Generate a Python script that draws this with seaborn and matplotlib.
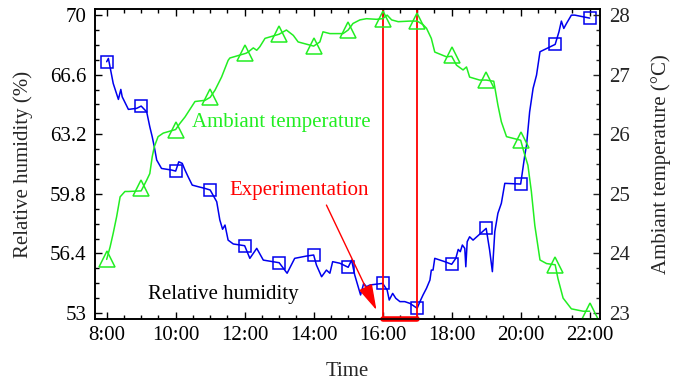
import numpy as np
import pandas as pd
import matplotlib
matplotlib.use("Agg")
import matplotlib.pyplot as plt
from matplotlib.ticker import AutoMinorLocator
import seaborn as sns

# ---- data ----
rh_time = [8.0, 8.05, 8.19, 8.34, 8.41, 8.45, 8.63, 8.87, 9.0, 9.16, 9.25, 9.32, 9.38, 9.45, 9.59,
           9.88, 10.0, 10.09, 10.19, 10.27, 10.36, 10.48, 10.65, 10.85, 11.0, 11.19, 11.28, 11.36,
           11.43, 11.52, 11.67, 12.0, 12.15, 12.35, 12.54, 13.0, 13.23, 13.45, 13.79, 14.0, 14.08,
           14.23, 14.37, 14.47, 14.55, 14.76, 15.0, 15.1, 15.19, 15.36, 15.45, 15.53, 15.63, 16.0,
           16.13, 16.19, 16.29, 16.38, 16.5, 16.64, 16.79, 17.0, 17.08, 17.17, 17.27, 17.37, 17.41,
           17.46, 17.51, 17.8, 18.0, 18.12, 18.19, 18.25, 18.31, 18.38, 18.41, 18.45, 18.52, 18.62,
           19.0, 19.1, 19.18, 19.25, 19.34, 19.44, 19.54, 20.0, 20.12, 20.17, 20.26, 20.36, 20.46,
           20.56, 21.0, 21.11, 21.18, 21.25, 21.33, 21.47, 21.57, 22.0]
rh_line = [67.34, 67.53, 66.10, 65.19, 65.76, 65.34, 64.62, 64.68, 64.81, 64.48, 63.63, 63.06,
           62.49, 61.73, 61.25, 61.16, 61.10, 61.63, 61.54, 61.16, 60.78, 60.30, 60.21, 60.11,
           60.02, 59.35, 58.31, 57.78, 58.02, 57.16, 56.94, 56.84, 56.12, 56.69, 56.02, 55.87,
           55.27, 56.12, 56.25, 56.31, 55.74, 55.07, 55.45, 55.27, 55.93, 55.84, 55.61, 56.02,
           55.17, 54.03, 54.69, 54.50, 54.60, 54.69, 54.31, 53.74, 54.12, 53.84, 53.65, 53.65,
           53.55, 53.27, 53.65, 54.03, 54.41, 54.88, 55.45, 55.45, 56.12, 55.93, 55.78, 56.12,
           56.63, 56.50, 56.88, 56.69, 55.64, 57.07, 57.35, 57.16, 57.83, 56.59, 55.36, 57.64,
           58.69, 59.26, 60.40, 60.36, 62.01, 62.58, 64.48, 65.82, 66.58, 67.91, 68.33, 69.05,
           69.66, 69.24, 69.53, 70.0, 70.0, 69.83]

temp_time = [8.0, 8.1, 8.19, 8.29, 8.39, 8.53, 8.63, 9.0, 9.16, 9.25, 9.32, 9.38, 9.49, 9.64, 10.0,
             10.12, 10.27, 10.56, 10.85, 11.0, 11.14, 11.33, 11.52, 11.57, 12.04, 12.1, 12.25,
             12.35, 12.44, 12.59, 13.0, 13.21, 13.41, 13.55, 14.0, 14.18, 14.27, 14.47, 14.85,
             15.0, 15.14, 15.34, 15.53, 15.82, 16.0, 16.13, 16.26, 16.45, 16.79, 17.0, 17.17,
             17.27, 17.41, 17.51, 17.85, 18.0, 18.14, 18.33, 18.43, 18.52, 18.81, 19.0, 19.22,
             19.34, 19.44, 19.59, 20.0, 20.09, 20.21, 20.31, 20.41, 20.56, 20.75, 21.0, 21.08,
             21.23, 21.47, 21.81, 22.0]
temp_line = [23.90, 24.11, 24.34, 24.62, 24.95, 25.04, 25.04, 25.05, 25.23, 25.34, 25.62, 25.79,
             25.96, 26.02, 26.08, 26.18, 26.29, 26.55, 26.57, 26.62, 26.74, 26.96, 27.24, 27.28,
             27.36, 27.38, 27.45, 27.41, 27.47, 27.61, 27.68, 27.75, 27.66, 27.55, 27.48, 27.55,
             27.72, 27.69, 27.69, 27.75, 27.86, 27.92, 27.94, 27.93, 27.94, 28.0, 27.92, 27.89,
             27.90, 27.90, 27.84, 27.78, 27.61, 27.38, 27.30, 27.31, 27.16, 27.08, 27.13, 26.96,
             26.91, 26.91, 26.89, 26.49, 26.21, 25.96, 25.90, 25.71, 25.48, 25.04, 24.47, 23.89,
             23.83, 23.81, 23.58, 23.25, 23.07, 23.03, 23.03]

hours = [8, 9, 10, 11, 12, 13, 14, 15, 16, 17, 18, 19, 20, 21, 22]
rh_marks = [67.34, 64.81, 61.10, 60.02, 56.84, 55.87, 56.31, 55.61, 54.69, 53.27, 55.78, 57.83,
            60.36, 68.33, 69.83]
temp_marks = [23.90, 25.09, 26.08, 26.62, 27.36, 27.68, 27.48, 27.75, 27.94, 27.90, 27.33, 26.91,
              25.90, 23.81, 23.03]

x_ticks = [8, 10, 12, 14, 16, 18, 20, 22]
x_labels = ["8:00", "10:00", "12:00", "14:00", "16:00", "18:00", "20:00", "22:00"]
rh_ticks = [53, 56.4, 59.8, 63.2, 66.6, 70]
rh_labels = ["53", "56.4", "59.8", "63.2", "66.6", "70"]
t_ticks = [23, 24, 25, 26, 27, 28]
t_labels = ["23", "24", "25", "26", "27", "28"]
exp_start, exp_end = 16, 17

# ---- styling ----
sns.set_theme(style="white")
plt.rcParams["font.family"] = ["Liberation Serif", "DejaVu Serif"]
plt.rcParams["mathtext.fontset"] = "stix"
FS = 15

BLUE = "#0000ee"
GREEN = "#22ee22"
RED = "#ff0000"

fig = plt.figure(figsize=(6.83, 3.82), dpi=100)
ax = fig.add_axes([0.139, 0.165, 0.739, 0.811])
ax2 = ax.twinx()

df_rh = pd.DataFrame({"t": rh_time, "v": rh_line})
df_t = pd.DataFrame({"t": temp_time, "v": temp_line})
df_rhm = pd.DataFrame({"t": hours, "v": rh_marks})
df_tm = pd.DataFrame({"t": hours, "v": temp_marks})

sns.lineplot(data=df_rh, x="t", y="v", ax=ax, color=BLUE, lw=1.1, sort=False, estimator=None)
sns.lineplot(data=df_rhm, x="t", y="v", ax=ax, color=BLUE, linestyle="", marker="s",
             markersize=9, markerfacecolor="none", markeredgecolor=BLUE, markeredgewidth=1.1,
             sort=False, estimator=None)
sns.lineplot(data=df_t, x="t", y="v", ax=ax2, color=GREEN, lw=1.1, sort=False, estimator=None)
sns.lineplot(data=df_tm, x="t", y="v", ax=ax2, color=GREEN, linestyle="", marker="^",
             markersize=11, markerfacecolor="none", markeredgecolor=GREEN, markeredgewidth=1.1,
             sort=False, estimator=None)

ax.set_xlim(7.66, 22.29)
ax.set_ylim(52.66, 70.34)
ax2.set_ylim(22.9, 28.1)

# experimentation window
ax.axvline(exp_start, color=RED, lw=1.3)
ax.axvline(exp_end, color=RED, lw=1.3)
ax.plot([exp_start, exp_end], [52.66, 52.66], color=RED, lw=4, clip_on=False,
        solid_capstyle="round", zorder=5)

# annotations
ax.text(10.46, 63.9, "Ambiant temperature", color=GREEN, fontsize=FS, ha="left", va="center")
ax.text(11.55, 60.02, "Experimentation", color=RED, fontsize=FS, ha="left", va="center")
ax.text(9.21, 54.03, "Relative humidity", color="black", fontsize=FS, ha="left", va="center")
ax.annotate("", xy=(15.82, 53.17), xytext=(14.37, 59.16),
            arrowprops=dict(arrowstyle="-|>,head_length=1.0,head_width=0.28", color=RED, lw=1.0,
                            mutation_scale=16, shrinkA=0, shrinkB=0))

# ticks
ax.set_xticks(x_ticks, x_labels)
ax.set_yticks(rh_ticks, rh_labels)
ax2.set_yticks(t_ticks, t_labels)
ax.xaxis.set_minor_locator(AutoMinorLocator(4))
ax.yaxis.set_minor_locator(AutoMinorLocator(4))
ax2.yaxis.set_minor_locator(AutoMinorLocator(4))

ax.tick_params(axis="both", which="both", direction="in", colors="black", labelsize=FS, width=1.0)
ax.tick_params(axis="x", which="both", top=True, bottom=True)
ax.tick_params(axis="y", which="both", left=True, right=False)
ax.tick_params(which="major", length=5)
ax.tick_params(which="minor", length=3)
ax.tick_params(axis="x", which="major", pad=5)
ax.tick_params(axis="y", which="major", pad=6)
ax2.tick_params(axis="y", which="both", direction="in", right=True, left=False,
                labelsize=FS, width=1.0, pad=7)
ax2.tick_params(which="major", length=5)
ax2.tick_params(which="minor", length=3)

ax.set_xlabel("Time", fontsize=FS, labelpad=12)
ax.set_ylabel("Relative humidity (%)", fontsize=FS, labelpad=12)
ax2.set_ylabel("Ambiant temperature (\u00b0C)", fontsize=FS, labelpad=15)

for a in (ax, ax2):
    for s in a.spines.values():
        s.set_color("black")
        s.set_linewidth(1.2)
    a.grid(False)

fig.savefig("out.png", dpi=100)
